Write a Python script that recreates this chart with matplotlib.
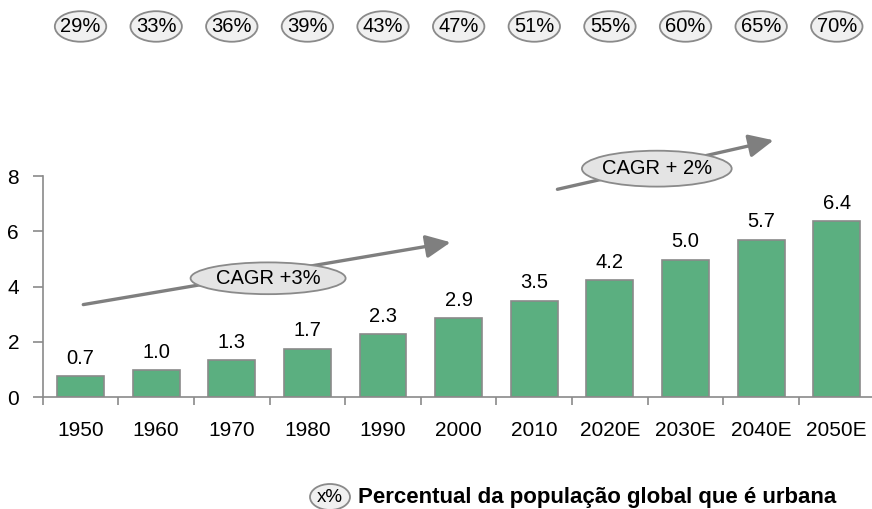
import matplotlib.pyplot as plt
from matplotlib.patches import Ellipse
import matplotlib.transforms as mtransforms

plt.rcParams['font.family'] = ['Liberation Sans', 'DejaVu Sans']

# data
years = ['1950', '1960', '1970', '1980', '1990', '2000', '2010',
         '2020E', '2030E', '2040E', '2050E']
population = [0.75, 0.98, 1.33, 1.75, 2.27, 2.85, 3.49, 4.23, 4.98, 5.70, 6.38]
value_labels = ['0.7', '1.0', '1.3', '1.7', '2.3', '2.9', '3.5', '4.2', '5.0', '5.7', '6.4']
urban_pct = ['29%', '33%', '36%', '39%', '43%', '47%', '51%', '55%', '60%', '65%', '70%']

bar_color = '#5BAF80'
edge_gray = '#8A8A8A'
bubble_fill = '#E4E4E4'

fig = plt.figure(figsize=(8.72, 5.09), dpi=100)
ax = fig.add_axes([0.049, 0.22, 0.954, 0.434])

x = list(range(len(years)))
ax.bar(x, population, width=0.62, color=bar_color, edgecolor=edge_gray, linewidth=1.2)

for xi, v, lab in zip(x, population, value_labels):
    ax.text(xi, v + 0.3, lab, ha='center', va='bottom', fontsize=14.5)

ax.set_xlim(-0.5, len(years) - 0.5)
ax.set_ylim(0, 8)
ax.set_yticks([0, 2, 4, 6, 8])
ax.set_xticks(x)
ax.set_xticklabels(years, fontsize=15)
ax.set_xticks([i - 0.5 for i in range(len(years) + 1)], minor=True)
ax.tick_params(axis='x', which='major', length=0, pad=17)
ax.tick_params(axis='x', which='minor', length=6, color=edge_gray, width=1.2)
ax.tick_params(axis='y', labelsize=15, length=7, color=edge_gray, width=1.2, pad=10)

for side in ['top', 'right']:
    ax.spines[side].set_visible(False)
for side in ['left', 'bottom']:
    ax.spines[side].set_color(edge_gray)
    ax.spines[side].set_linewidth(1.2)

# urban share bubbles along the top
blend = mtransforms.blended_transform_factory(ax.transData, fig.transFigure)
for xi, pct in zip(x, urban_pct):
    e = Ellipse((xi, 0.948), 0.68, 0.06, transform=blend, facecolor='#F0F0F0',
                edgecolor=edge_gray, linewidth=1.3, clip_on=False)
    fig.add_artist(e)
    fig.text(xi, 0.948, pct, transform=blend, ha='center', va='center', fontsize=14.5)

# CAGR arrows
arrow_kw = dict(arrowstyle='-|>,head_length=1.5,head_width=0.7', color='#7F7F7F', lw=2.4)
ax.annotate('', xy=(4.93, 5.62), xytext=(0, 3.33), arrowprops=arrow_kw, annotation_clip=False)
ax.annotate('', xy=(9.2, 9.32), xytext=(6.27, 7.5), arrowprops=arrow_kw, annotation_clip=False)

for cx, cy, w, h, txt in [(2.48, 4.3, 2.05, 1.15, 'CAGR +3%'),
                          (7.62, 8.27, 1.98, 1.3, 'CAGR + 2%')]:
    e = Ellipse((cx, cy), w, h, facecolor=bubble_fill, edgecolor=edge_gray,
                linewidth=1.3, clip_on=False, zorder=5)
    ax.add_patch(e)
    ax.text(cx, cy, txt, ha='center', va='center', fontsize=14.5, zorder=6)

# legend
leg_y = 1 - 497 / 509
leg_e = Ellipse((330 / 872, leg_y), 40 / 872, 26 / 509, transform=fig.transFigure,
                facecolor='#F0F0F0', edgecolor=edge_gray, linewidth=1.3)
fig.add_artist(leg_e)
fig.text(330 / 872, leg_y, 'x%', ha='center', va='center', fontsize=13.5)
fig.text(358 / 872, leg_y, 'Percentual da população global que é urbana',
         ha='left', va='center', fontsize=16, fontweight='bold')

fig.savefig('out.png', dpi=100)
